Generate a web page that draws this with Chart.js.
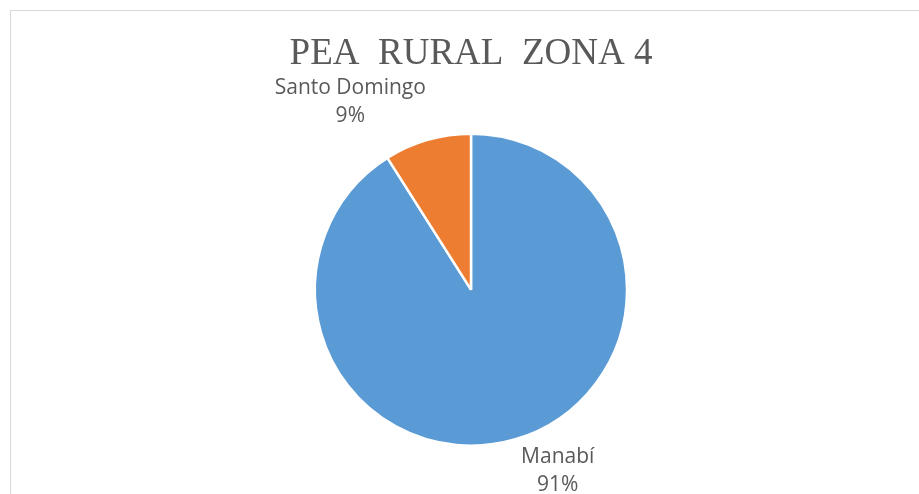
<!DOCTYPE html>
<html>
<head>
<meta charset="utf-8">
<script src="https://cdn.jsdelivr.net/npm/chart.js@4"></script>
<style>
  body { margin: 0; background: #fff; overflow: hidden; }
  #frame {
    position: absolute; left: 10px; top: 10px;
    width: 908px; height: 483px;
    border-left: 1px solid #d9d9d9; border-top: 1px solid #d9d9d9;
  }
</style>
</head>
<body>
<div id="frame"><canvas id="pieChart" width="908" height="483"></canvas></div>
<script>
const labels = ['Manabí', 'Santo Domingo']
const values = [91, 9]
const colors = ['#5B9BD5', '#ED7D31']

// label nudges (px) from the default outside-end spot, Excel "best fit" style
const labelShift = [[32, -7], [-66, 1]]

const pieLabels = {
    id: 'pieLabels',
    afterDatasetsDraw(chart) {
        const c = chart.ctx
        const meta = chart.getDatasetMeta(0)
        const total = values.reduce((a, b) => a + b, 0)
        c.save()
        c.font = '21px "Open Sans"'
        c.fillStyle = '#595959'
        c.textAlign = 'center'
        c.textBaseline = 'middle'
        meta.data.forEach((arc, i) => {
            const mid = (arc.startAngle + arc.endAngle) / 2
            const r = arc.outerRadius + 40
            const x = arc.x + Math.cos(mid) * r + labelShift[i][0]
            const y = arc.y + Math.sin(mid) * r + labelShift[i][1]
            const pct = Math.round(values[i] / total * 100) + '%'
            c.fillText(labels[i], x, y - 14)
            c.fillText(pct, x, y + 14)
        })
        c.restore()
    }
}

const ctx = document.getElementById('pieChart')
const myChart = new Chart(ctx, {
    type: 'pie',
    data: {
        labels: labels,
        datasets: [{
            data: values,
            backgroundColor: colors,
            borderColor: '#ffffff',
            borderWidth: 2.5
        }]
    },
    options: {
        responsive: false,
        animation: false,
        devicePixelRatio: 1,
        layout: {
            padding: { left: 12, right: 0, top: 0, bottom: 47 }
        },
        plugins: {
            legend: { display: false },
            tooltip: { enabled: false },
            title: {
                display: true,
                text: 'PEA  RURAL  ZONA 4',
                color: '#595959',
                font: { family: '"Liberation Serif", "Times New Roman", serif', size: 37, weight: 'normal' },
                padding: { top: 21, bottom: 56 }
            }
        }
    },
    plugins: [pieLabels]
})
</script>
</body>
</html>
